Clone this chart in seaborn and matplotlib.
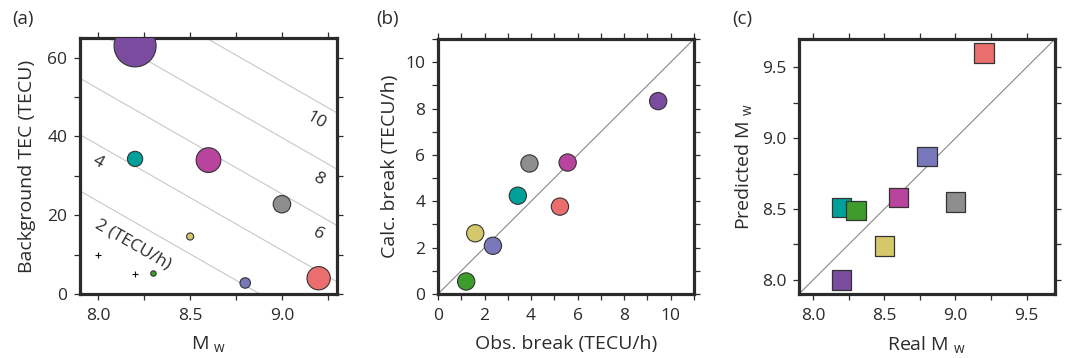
import numpy as np
import matplotlib
matplotlib.use("Agg")
import matplotlib.pyplot as plt
import seaborn as sns

# dados
eventos = ["p1", "teal", "mag", "cinza", "amar", "verde", "azul", "verm"]
cores = ["#7B4BA0", "#00A09A", "#B8449E", "#8E8E8E", "#D5C86B", "#3E9C2D", "#7878BA", "#EA6E6E"]
mw = [8.2, 8.2, 8.6, 9.0, 8.5, 8.3, 8.8, 9.2]
tec = [63.0, 34.3, 34.0, 22.8, 14.6, 5.2, 2.8, 4.0]
obs_break = [9.46, 3.43, 5.57, 3.93, 1.60, 1.21, 2.36, 5.24]
calc_break = [8.32, 4.24, 5.67, 5.63, 2.62, 0.54, 2.08, 3.77]
mw_pred = [8.00, 8.51, 8.58, 8.55, 8.24, 8.49, 8.87, 9.60]

# eventos sem quebra (cruzes)
mw_sem = [8.0, 8.2]
tec_sem = [10.0, 5.0]

# modelo linear: quebra = a*TEC + b*Mw + c
coef_a, coef_b, coef_c = 0.1399, 3.734, -31.16
niveis = [2, 4, 6, 8, 10]
rotulos_niveis = ["2 (TECU/h)", "4", "6", "8", "10"]

paleta = dict(zip(eventos, cores))
txt = "#2b2b2b"

sns.set_style("white")
plt.rcParams["font.family"] = ["Open Sans", "DejaVu Sans"]
plt.rcParams["mathtext.fontset"] = "custom"
plt.rcParams["mathtext.rm"] = "Open Sans"

fig = plt.figure(figsize=(10.71, 3.58), dpi=100)
W, H = 1071, 358
def caixa(x0, x1, y0, y1):
    return [x0 / W, (H - y1) / H, (x1 - x0) / W, (y1 - y0) / H]

axa = fig.add_axes(caixa(80, 337, 38, 294))
axb = fig.add_axes(caixa(438, 694, 39, 294))
axc = fig.add_axes(caixa(799, 1055, 39, 294))

def estilo(ax, maj, mnr):
    for s in ax.spines.values():
        s.set_visible(True)
        s.set_linewidth(2.3)
        s.set_color(txt)
    ax.xaxis.set_major_locator(plt.FixedLocator(maj[0]))
    ax.xaxis.set_minor_locator(plt.FixedLocator(mnr[0]))
    ax.yaxis.set_major_locator(plt.FixedLocator(maj[1]))
    ax.yaxis.set_minor_locator(plt.FixedLocator(mnr[1]))
    ax.tick_params(which="both", direction="out", length=4, width=0.9, color=txt,
                   top=True, right=True, bottom=True, left=True,
                   labelsize=12.5, labelcolor=txt)
    ax.tick_params(axis="x", which="both", pad=6)
    ax.tick_params(axis="y", which="both", pad=5)
    ax.tick_params(which="minor", labelbottom=False, labelleft=False)

# (a)
mg, tg = np.meshgrid(np.linspace(7.9, 9.3, 200), np.linspace(0, 65, 200))
zq = coef_a * tg + coef_b * mg + coef_c
axa.contour(mg, tg, zq, levels=niveis, colors="#c8c8c8", linewidths=0.8, zorder=1)
pos_rot = [(8.19, 12.6), (7.999, 33.6), (9.2, 15.3), (9.2, 29.2), (9.187, 44.1)]
for (xr, yr), lab in zip(pos_rot, rotulos_niveis):
    axa.text(xr, yr, lab, rotation=-30, rotation_mode="anchor", fontsize=12.5,
             color=txt, ha="center", va="center")
sns.scatterplot(x=mw, y=tec, hue=eventos, palette=paleta, s=[(3.2 * v) ** 2 for v in obs_break],
                edgecolor="#333333", linewidth=0.8, legend=False, ax=axa, zorder=3)
axa.scatter(mw_sem, tec_sem, marker="+", s=25, color="#111111", linewidths=0.8, zorder=3)
axa.set_xlim(7.9, 9.3)
axa.set_ylim(0, 65)
estilo(axa, ([8.0, 8.5, 9.0], [0, 20, 40, 60]), ([8.25, 8.75, 9.25], [10, 30, 50]))
axa.xaxis.set_major_formatter(plt.FormatStrFormatter("%.1f"))
axa.set_xlabel(r"M $_{\mathregular{w}}$", fontsize=14, color=txt, labelpad=8)
axa.set_ylabel("Background TEC (TECU)", fontsize=14, color=txt, labelpad=8)

# (b)
axb.plot([0, 11], [0, 11], color="#888888", lw=0.8, zorder=1)
sns.scatterplot(x=obs_break, y=calc_break, hue=eventos, palette=paleta, s=155,
                edgecolor="#333333", linewidth=0.8, legend=False, ax=axb, zorder=3)
axb.set_xlim(0, 11)
axb.set_ylim(0, 11)
estilo(axb, ([0, 2, 4, 6, 8, 10], [0, 2, 4, 6, 8, 10]), ([1, 3, 5, 7, 9, 11], [1, 3, 5, 7, 9, 11]))
axb.set_xlabel("Obs. break (TECU/h)", fontsize=14, color=txt, labelpad=8)
axb.set_ylabel("Calc. break (TECU/h)", fontsize=14, color=txt, labelpad=5)

# (c)
axc.plot([7.9, 9.7], [7.9, 9.7], color="#888888", lw=0.8, zorder=1)
sns.scatterplot(x=mw, y=mw_pred, hue=eventos, palette=paleta, marker="s", s=200,
                edgecolor="#333333", linewidth=0.9, legend=False, ax=axc, zorder=3)
axc.set_xlim(7.9, 9.7)
axc.set_ylim(7.9, 9.7)
estilo(axc, ([8.0, 8.5, 9.0, 9.5], [8.0, 8.5, 9.0, 9.5]), ([8.25, 8.75, 9.25], [8.25, 8.75, 9.25]))
axc.xaxis.set_major_formatter(plt.FormatStrFormatter("%.1f"))
axc.yaxis.set_major_formatter(plt.FormatStrFormatter("%.1f"))
axc.set_xlabel(r"Real M $_{\mathregular{w}}$", fontsize=14, color=txt, labelpad=8)
axc.set_ylabel(r"Predicted M $_{\mathregular{w}}$", fontsize=14, color=txt, labelpad=5)

for ax, lab, xp in [(axa, "(a)", 12), (axb, "(b)", 376), (axc, "(c)", 732)]:
    fig.text(xp / W, 1 - 19 / H, lab, fontsize=13.5, color=txt, ha="left", va="center")

fig.savefig("out.png", dpi=100)
